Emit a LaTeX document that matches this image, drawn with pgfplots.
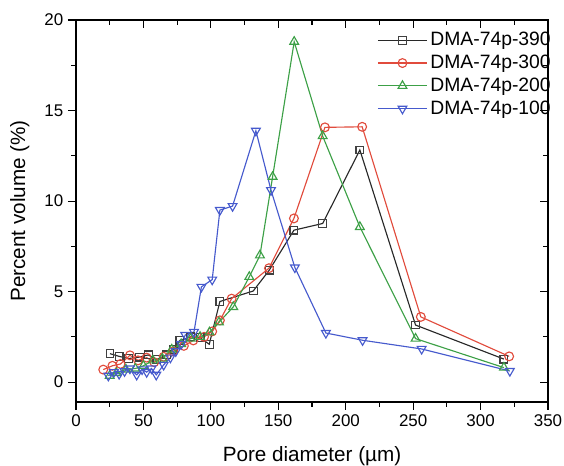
\documentclass[border=0pt]{standalone}
\usepackage{fontspec}
\setmainfont{Liberation Sans}
\usepackage{pgfplots}
\pgfplotsset{compat=1.18}
\definecolor{cBlack}{RGB}{40,40,40}
\definecolor{cRed}{RGB}{225,75,60}
\definecolor{cGreen}{RGB}{60,160,70}
\definecolor{cBlue}{RGB}{70,90,205}
\begin{document}
\begin{tikzpicture}
\useasboundingbox (-57pt,-48pt) rectangle (366pt,301.5pt);
\begin{axis}[
  at={(0,0)}, anchor=south west,
  scale only axis, width=354pt, height=286.5pt,
  xmin=0, xmax=350, ymin=-1.1, ymax=20,
  xtick={0,50,...,350}, ytick={0,5,...,20},
  minor xtick={25,75,...,325}, minor ytick={2.5,7.5,...,17.5},
  xtick pos=left, ytick pos=left,
  tick align=outside,
  major tick length=6pt, minor tick length=3.5pt,
  every tick/.style={black, line width=0.8pt},
  axis line style={line width=0.9pt},
  /pgf/number format/assume math mode=true,
  ticklabel style={font=\fontsize{12.7}{14}\selectfont},
  xlabel={Pore diameter (µm)}, ylabel={Percent volume (\%)},
  label style={font=\fontsize{15.5}{17}\selectfont},
  xlabel style={at={(axis description cs:0.5,-0.141)}, anchor=center},
  ylabel style={at={(axis description cs:-0.119,0.5)}, anchor=center},
  legend style={draw=none, fill=none, at={(1.012,0.975)}, anchor=north east,
    font=\fontsize{14.5}{16}\selectfont, row sep=1.5pt, inner sep=0pt},
  legend cell align=left,
  legend image code/.code={\draw[mark repeat=2,mark phase=2] plot coordinates {(-0.1cm,0cm)(0.55cm,0cm)(1.2cm,0cm)};},
  every axis plot/.append style={line width=0.85pt},
]
\addplot[cBlack, mark=square, mark size=2.9pt, mark options={fill=white, draw=black!75}] coordinates {
(25.2,1.57)(32,1.42)(39,1.3)(46.9,1.38)(53.6,1.5)(60,1.25)(67,1.5)(72,1.8)(77,2.3)(85,2.5)(92,2.45)(98.8,2.09)(106.7,4.45)(131.4,5.03)(143.3,6.18)(161.6,8.39)(182.9,8.76)(210.5,12.82)(251.8,3.15)(317.3,1.27)};
\addlegendentry{DMA-74p-390}
\addplot[cRed, mark=o, mark size=3.3pt, mark options={fill=white}] coordinates {
(20.2,0.69)(27,0.9)(33,1.0)(40,1.48)(46,1.2)(52.4,1.35)(58,1.1)(65,1.4)(72,1.7)(80,2.0)(87,2.3)(95,2.5)(101,2.8)(106.7,3.41)(115.4,4.61)(143.1,6.29)(161.6,9.04)(184.6,14.07)(212.2,14.1)(255.7,3.6)(321.2,1.42)};
\addlegendentry{DMA-74p-300}
\addplot[cGreen, mark=triangle, mark size=3.8pt, mark options={fill=white}] coordinates {
(25,0.35)(30,0.5)(37,0.7)(44,0.75)(50,0.9)(57,1.2)(64,1.3)(71,1.8)(78,2.1)(85,2.4)(92,2.5)(99,2.75)(106,3.3)(116.6,4.15)(128.5,5.81)(136.4,7.0)(145.8,11.34)(161.8,18.8)(182.9,13.59)(210.5,8.57)(251.8,2.4)(317.3,0.8)};
\addlegendentry{DMA-74p-200}
\addplot[cBlue, mark=triangle, mark size=3.8pt, mark options={fill=white, rotate=180}] coordinates {
(24,0.35)(28,0.55)(32,0.45)(36,0.6)(40,0.75)(45,0.4)(49,0.7)(52.4,0.55)(56,0.75)(59.5,0.4)(65,0.95)(70,1.35)(74,1.7)(78,2.1)(81,2.6)(87.5,2.77)(93,5.26)(101,5.66)(106.7,9.5)(116.1,9.72)(133.4,13.88)(144.6,10.6)(162.3,6.33)(185.3,2.71)(212.5,2.31)(256.3,1.83)(321.7,0.61)};
\addlegendentry{DMA-74p-100}
\end{axis}
\begin{axis}[
  at={(0,0)}, anchor=south west,
  scale only axis, width=354pt, height=286.5pt,
  xmin=0, xmax=350, ymin=-1.1, ymax=20,
  xtick={0,50,...,350}, ytick={0,5,...,20},
  minor xtick={25,75,...,325}, minor ytick={2.5,7.5,...,17.5},
  xtick pos=right, ytick pos=right,
  tick align=inside,
  major tick length=6pt, minor tick length=3.5pt,
  every tick/.style={black, line width=0.8pt},
  axis line style={line width=0.9pt},
  xticklabels={}, yticklabels={},
]
\end{axis}
\end{tikzpicture}
\end{document}
